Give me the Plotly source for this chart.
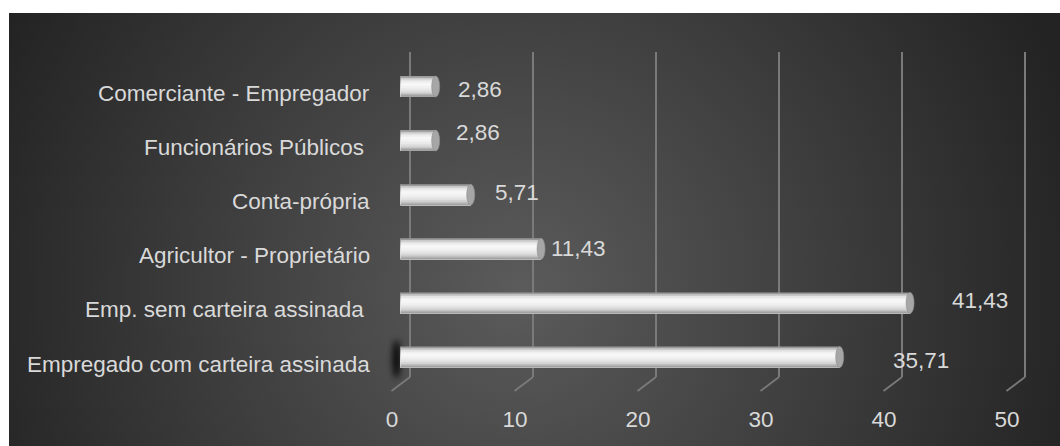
import base64
import plotly.graph_objects as go

# ---- data -------------------------------------------------------------
categories = [
    "Comerciante - Empregador",
    "Funcionários Públicos ",
    "Conta-própria",
    "Agricultor - Proprietário",
    "Emp. sem carteira assinada ",
    "Empregado com carteira assinada",
]
percentages = [2.86, 2.86, 5.71, 11.43, 41.43, 35.71]
axis_ticks = [0, 10, 20, 30, 40, 50]

# ---- geometry (pixels) --------------------------------------------------
W, H = 1060, 446
PANEL_X, PANEL_Y = 9, 13            # dark panel starts here
PX_PER_UNIT = 12.3
BAR_ORIGIN = 400.5                   # value 0 on the bars' plane
WALL_ORIGIN = 410.0                  # value 0 on the back wall
FRONT_ORIGIN = 391.5                 # value 0 on the floor's front edge
WALL_TOP, WALL_BEND, FLOOR_FRONT = 52, 377, 391
ROW_FIRST, ROW_STEP = 86.5, 54.1
BAR_THICK = 21
LABEL_RIGHT = 372

TEXT = "#d9d9d9"
GRID = "#7a7a7a"
FONT = 'Arial, "Liberation Sans", sans-serif'
FONT_SIZE = 22.5

# value-label nudges (px): right of the bar end, and up
label_dx = [20, 18, 22, 8, 40, 51]
label_dy = [-3, 8, 2, 0, 2, -3]

# cylinder shading, top to bottom
shades = ["#9a9a9a", "#c8c8c8", "#e3e3e3", "#f0f0f0", "#f7f7f7", "#f5f5f5",
          "#f0f0f0", "#e9e9e9", "#e0e0e0", "#d3d3d3", "#c0c0c0", "#a2a2a2"]


def px_x(p):
    return p / W


def px_y(p):
    return 1 - p / H


n = len(categories)
band = BAR_THICK / ROW_STEP           # bar thickness in category units
stripe = band / len(shades)

# ---- background panel: radial grey gradient + soft floor shadow ---------
pw, ph = W - PANEL_X, H - PANEL_Y
shadow_x = BAR_ORIGIN - 4 - PANEL_X
shadow_y = ROW_FIRST + (n - 1) * ROW_STEP + 2 - PANEL_Y
svg = f"""<svg xmlns="http://www.w3.org/2000/svg" width="{pw}" height="{ph}" viewBox="0 0 {pw} {ph}">
<defs>
<radialGradient id="g" gradientUnits="userSpaceOnUse" cx="{520 - PANEL_X}" cy="{290 - PANEL_Y}" r="580">
<stop offset="0" stop-color="#5b5b5b"/>
<stop offset="1" stop-color="#232323"/>
</radialGradient>
<filter id="b" x="-3" y="-1" width="7" height="3"><feGaussianBlur stdDeviation="3"/></filter>
</defs>
<rect width="{pw}" height="{ph}" fill="url(#g)"/>
<ellipse cx="{shadow_x}" cy="{shadow_y}" rx="4" ry="19" fill="#000" opacity="0.9" filter="url(#b)"/>
</svg>"""
bg_src = "data:image/svg+xml;base64," + base64.b64encode(svg.encode()).decode()

fig = go.Figure()

# empty trace keeps the wall/floor subplot alive
fig.add_trace(go.Scatter(x=[], y=[], xaxis="x", yaxis="y", showlegend=False,
                         hoverinfo="skip"))

# bars: each shading layer runs from its own top edge down to the bar's
# bottom edge, so later layers overlap earlier ones without gaps
for k, col in enumerate(shades):
    fig.add_trace(go.Bar(
        y=categories, x=percentages, orientation="h",
        xaxis="x2", yaxis="y2",
        width=band - k * stripe, offset=-band / 2 + k * stripe,
        marker=dict(color=col, line=dict(width=0)),
        hoverinfo="skip", showlegend=False,
    ))

shapes = []
cap_half = 4 / PX_PER_UNIT
end_half = 3.5 / PX_PER_UNIT
for i, v in enumerate(percentages):
    # rounded back end of the cylinder
    shapes.append(dict(type="circle", xref="x2", yref="y2", layer="below",
                       x0=-end_half, x1=end_half,
                       y0=i - band / 2, y1=i + band / 2,
                       fillcolor="#d6d6d6", line=dict(width=0)))
    # end face of the cylinder
    shapes.append(dict(type="circle", xref="x2", yref="y2",
                       x0=v - cap_half, x1=v + cap_half,
                       y0=i - band / 2, y1=i + band / 2,
                       fillcolor="#a6a6a6", line=dict(color="#8c8c8c", width=0.6)))

# floor lines joining the wall grid to the front edge
depth_units = (WALL_ORIGIN - FRONT_ORIGIN) / PX_PER_UNIT
for t in axis_ticks:
    shapes.append(dict(type="line", xref="x", yref="paper",
                       x0=t, y0=px_y(WALL_BEND), x1=t - depth_units, y1=px_y(FLOOR_FRONT),
                       line=dict(color=GRID, width=1.8)))

annotations = []
for i, (c, v) in enumerate(zip(categories, percentages)):
    label = c[:-1] + "\u00a0" if c.endswith(" ") else c
    annotations.append(dict(xref="paper", yref="y2", x=px_x(LABEL_RIGHT), y=c,
                            xanchor="right", yanchor="middle", yshift=-7,
                            text=label, showarrow=False))
    annotations.append(dict(xref="x2", yref="y2", x=v, y=c,
                            xanchor="left", yanchor="middle",
                            xshift=label_dx[i], yshift=label_dy[i],
                            text=f"{v:.2f}".replace(".", ","), showarrow=False))

x_lo = -2.0
x_hi = 50.5
bar_y_top = ROW_FIRST - ROW_STEP / 2
bar_y_bot = ROW_FIRST + (n - 1) * ROW_STEP + ROW_STEP / 2

fig.update_layout(
    width=W, height=H,
    margin=dict(l=0, r=0, t=0, b=0),
    paper_bgcolor="white", plot_bgcolor="rgba(0,0,0,0)",
    template="none",
    font=dict(family=FONT, size=FONT_SIZE, color=TEXT),
    barmode="overlay", showlegend=False, hovermode=False,
    images=[dict(source=bg_src, xref="paper", yref="paper",
                 x=px_x(PANEL_X), y=px_y(PANEL_Y),
                 sizex=pw / W, sizey=ph / H,
                 xanchor="left", yanchor="top", sizing="stretch", layer="below")],
    xaxis=dict(
        domain=[px_x(WALL_ORIGIN + x_lo * PX_PER_UNIT), px_x(WALL_ORIGIN + x_hi * PX_PER_UNIT)],
        range=[x_lo, x_hi], anchor="y",
        tickvals=axis_ticks, ticktext=[str(t) for t in axis_ticks],
        showgrid=True, gridcolor=GRID, gridwidth=1.8,
        zeroline=False, showline=False, ticks="",
        ticklabelshift=-round(WALL_ORIGIN - FRONT_ORIGIN), ticklabelstandoff=26,
        tickfont=dict(family=FONT, size=FONT_SIZE, color=TEXT), fixedrange=True,
    ),
    yaxis=dict(
        domain=[px_y(WALL_BEND), px_y(WALL_TOP)], range=[0, 1], anchor="x",
        showgrid=False, zeroline=False, showticklabels=False, showline=False,
        fixedrange=True,
    ),
    xaxis2=dict(
        domain=[px_x(BAR_ORIGIN), px_x(BAR_ORIGIN + 50 * PX_PER_UNIT)],
        range=[0, 50], anchor="y2", visible=False, fixedrange=True,
    ),
    yaxis2=dict(
        domain=[px_y(bar_y_bot), px_y(bar_y_top)], anchor="x2",
        type="category", categoryorder="array", categoryarray=categories,
        range=[n - 0.5, -0.5], visible=False, fixedrange=True,
    ),
    shapes=shapes,
    annotations=annotations,
)

fig.write_html("out.html")
